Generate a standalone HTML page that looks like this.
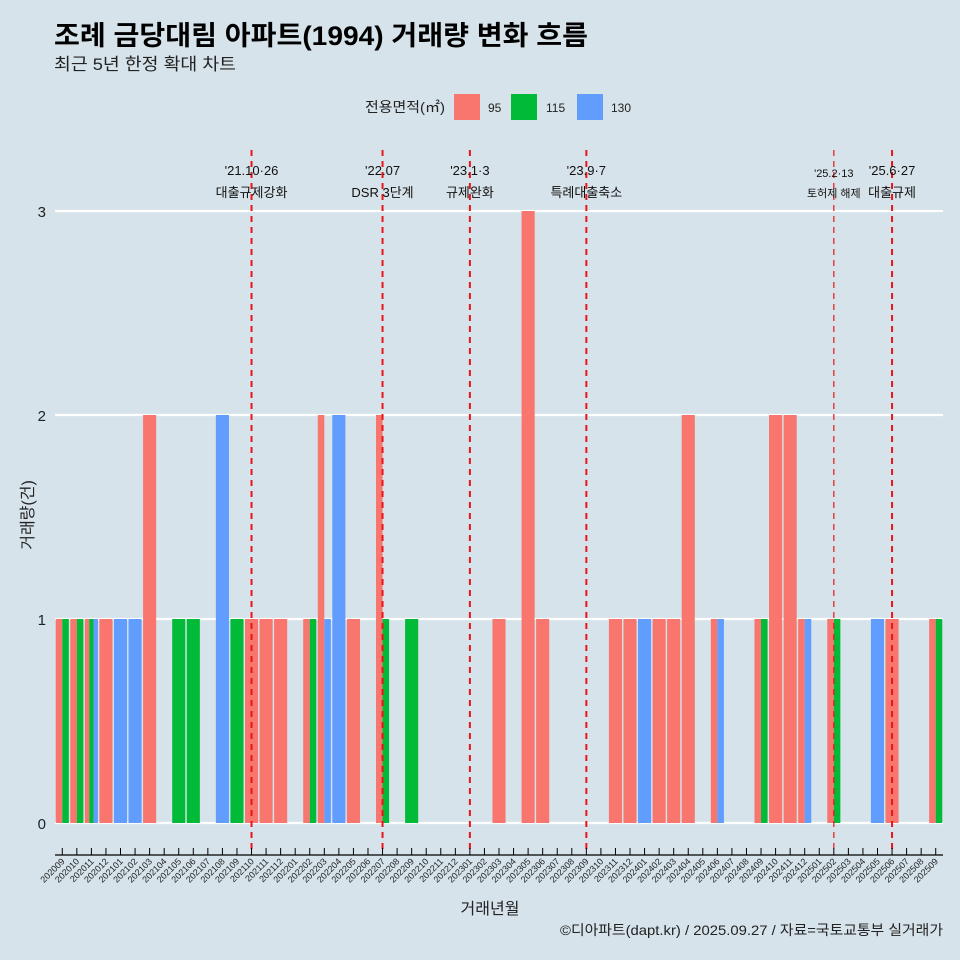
<!DOCTYPE html>
<html><head><meta charset="utf-8"><style>
body{margin:0;background:#d6e3ea;}
svg{display:block;font-family:"Liberation Sans","Noto Sans CJK KR",sans-serif;}
</style></head><body>
<svg id="chart" width="960" height="960" viewBox="0 0 960 960">
<rect width="960" height="960" fill="#d6e3ea"/>
<text x="54" y="45" font-size="27" font-weight="bold" fill="#000" textLength="534" lengthAdjust="spacingAndGlyphs">조례 금당대림 아파트(1994) 거래량 변화 흐름</text>
<text x="54" y="70" font-size="17" fill="#222" textLength="182" lengthAdjust="spacingAndGlyphs">최근 5년 한정 확대 차트</text>
<g>
<text x="445" y="112" font-size="14" text-anchor="end" fill="#222" textLength="80" lengthAdjust="spacingAndGlyphs">전용면적(㎡)</text>
<rect x="454" y="94" width="26" height="26" fill="#f8766d"/>
<text x="488" y="112" font-size="12" fill="#222">95</text>
<rect x="511" y="94" width="26" height="26" fill="#00ba38"/>
<text x="546" y="112" font-size="12" fill="#222">115</text>
<rect x="577" y="94" width="26" height="26" fill="#619cff"/>
<text x="611" y="112" font-size="12" fill="#222">130</text>
</g>
<g id="grid"></g><g id="bars"></g><g id="events"></g><g id="axes"></g>
<text x="0" y="0" transform="translate(33,515) rotate(-90)" font-size="16" text-anchor="middle" fill="#222">거래량(건)</text>
<text x="490" y="914" font-size="16" text-anchor="middle" fill="#222">거래년월</text>
<text x="943" y="935" font-size="14" text-anchor="end" fill="#222" textLength="383" lengthAdjust="spacingAndGlyphs">©디아파트(dapt.kr) / 2025.09.27 / 자료=국토교통부 실거래가</text>
</svg>
<script>
const months = [];
for (let y = 2020, m = 9; !(y === 2025 && m === 10); ) { months.push(String(y) + String(m).padStart(2, '0')); m++; if (m > 12) { m = 1; y++; } }
const seriesNames = ['95', '115', '130'];
const seriesColors = ['#f8766d', '#00ba38', '#619cff'];
const s95 = {'202009':1,'202010':1,'202011':1,'202012':1,'202103':2,'202110':1,'202111':1,'202112':1,'202202':1,'202203':2,'202205':1,'202207':2,'202303':1,'202305':3,'202306':1,'202311':1,'202312':1,'202402':1,'202403':1,'202404':2,'202406':1,'202409':1,'202410':2,'202411':2,'202412':1,'202502':1,'202506':1,'202509':1};
const s115 = {'202009':1,'202010':1,'202011':1,'202105':1,'202106':1,'202109':1,'202202':1,'202207':1,'202209':1,'202409':1,'202502':1,'202509':1};
const s130 = {'202011':1,'202101':1,'202102':1,'202108':2,'202203':1,'202204':2,'202401':1,'202406':1,'202412':1,'202505':1};
const yTicks = [0, 1, 2, 3];
const eventMonths = ['202110', '202207', '202301', '202309', '202502', '202506'];
const eventDates = ["'21.10·26", "'22.07", "'23.1·3", "'23.9·7", "'25.2·13", "'25.6·27"];
const eventLabels = ['대출규제강화', 'DSR 3단계', '규제완화', '특례대출축소', '토허제 해제', '대출규제'];

const NS = 'http://www.w3.org/2000/svg';
const L = 55, R = 943, Y0 = 823, UNIT = 204;
const step = (R - L) / months.length;
const xC = i => L + (i + 0.5) * step;
const yS = v => Y0 - v * UNIT;
function mk(tag, attrs, parent) { const e = document.createElementNS(NS, tag); for (const k in attrs) e.setAttribute(k, attrs[k]); parent.appendChild(e); return e; }
const grid = document.getElementById('grid'), bars = document.getElementById('bars'), ev = document.getElementById('events'), axes = document.getElementById('axes');
yTicks.forEach(t => {
  const l = mk('line', {x1: L, x2: R, y1: yS(t), y2: yS(t), stroke: '#fff', 'stroke-width': 2.2}, grid);
  
  
  const tx = mk('text', {x: 46, y: yS(t) + 6, 'font-size': 15, 'text-anchor': 'end', fill: '#222'}, axes);
  tx.textContent = t;
  
  
});
const seriesData = [s95, s115, s130];
months.forEach((mo, i) => {
  const present = [];
  seriesData.forEach((s, k) => { if (s[mo]) present.push(k); });
  if (!present.length) return;
  const tw = step * 0.9, w = tw / present.length, x0 = xC(i) - tw / 2;
  present.forEach((k, j) => {
    const v = seriesData[k][mo];
    const b = mk('rect', {x: x0 + j * w, y: yS(v), width: w, height: Y0 - yS(v), fill: seriesColors[k]}, bars);
    
    
  });
});
eventMonths.forEach((mo, k) => {
  const i = months.indexOf(mo), x = xC(i);
  const thin = mo === '202502';
  const l = mk('line', {x1: x, x2: x, y1: 150, y2: 852, stroke: '#e8151b', 'stroke-width': thin ? 1.2 : 2, 'stroke-dasharray': '6,5'}, ev);
  
  
  const fs = thin ? 11 : 13;
  const t1 = mk('text', {x: x, y: thin ? 177 : 175, 'font-size': fs, 'text-anchor': 'middle', fill: '#111'}, ev);
  t1.textContent = eventDates[k];
  
  
  const t2 = mk('text', {x: x, y: 197, 'font-size': fs, 'text-anchor': 'middle', fill: '#111'}, ev);
  t2.textContent = eventLabels[k];
  
  
});
const ax = mk('line', {x1: L, x2: R, y1: 855, y2: 855, stroke: '#000', 'stroke-width': 1.2}, axes);


months.forEach((mo, i) => {
  const x = xC(i);
  const tk = mk('line', {x1: x, x2: x, y1: 848, y2: 855, stroke: '#000', 'stroke-width': 1}, axes);
  
  
  const tx = mk('text', {x: 0, y: 0, 'font-size': 9, 'text-anchor': 'end', fill: '#222', transform: 'translate(' + (x + 3) + ',862) rotate(-45)'}, axes);
  tx.textContent = mo;
  
  
});
</script>
</body></html>
